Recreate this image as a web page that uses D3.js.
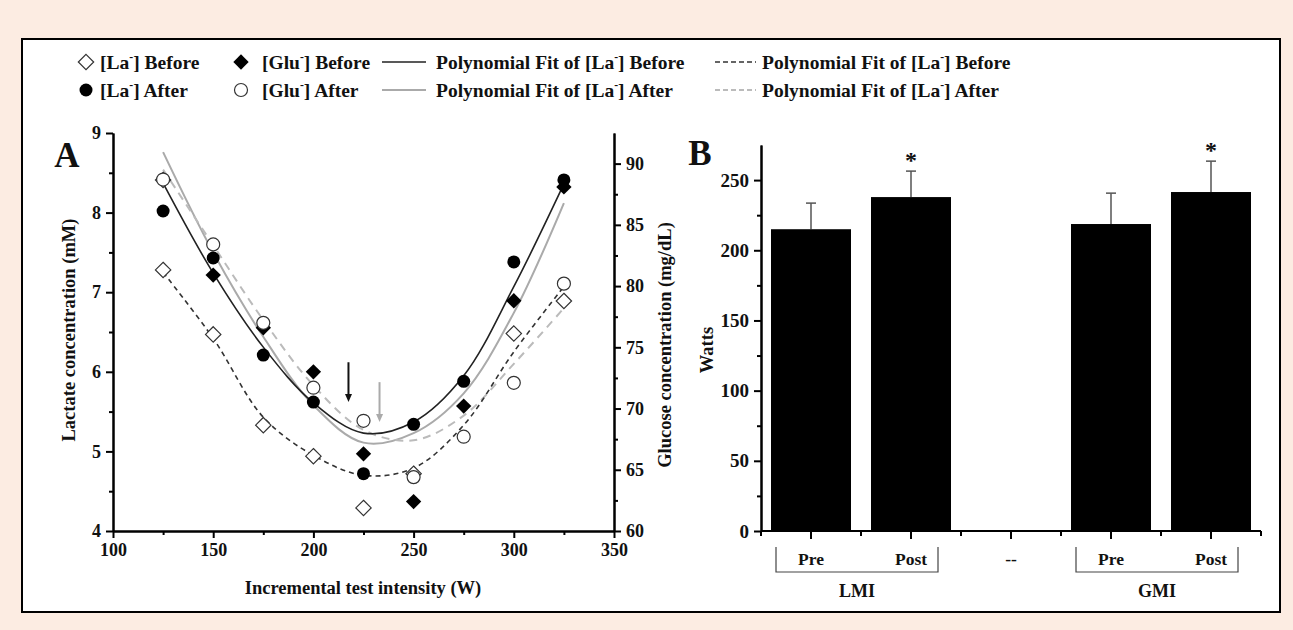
<!DOCTYPE html>
<html>
<head>
<meta charset="utf-8">
<script src="https://cdn.jsdelivr.net/npm/d3@7"></script>
<style>
  body { margin:0; background:#fcece2; }
  svg text { font-family: "Liberation Serif", "Times New Roman", serif; font-weight: bold; fill:#111; }
</style>
</head>
<body>
<svg id="fig" width="1293" height="630"></svg>
<script>
// datos panel A (intensidad en W)
const intensidad = [125,150,175,200,225,250,275,300,325];
const laBefore = [[125,7.28],[125,8.41],[150,6.47],[175,5.33],[200,4.94],[225,4.29],[250,4.72],[300,6.48],[325,6.89]];
const laAfter = [8.02,7.43,6.21,5.62,4.72,5.34,5.88,7.38,8.41];
const gluBefore = [null,80.9,76.6,73.0,66.3,62.4,70.2,78.8,88.1];
const gluAfter = [88.7,83.4,77.0,71.7,69.0,64.4,67.7,72.1,80.2];
// curvas de ajuste (mM)
const fitBefore = [8.37,7.24,6.31,5.61,5.23,5.37,5.95,7.07,8.36];
const fitAfter = [8.76,7.50,6.44,5.58,5.11,5.23,5.73,6.74,8.12];
const fitBeforeDash = [7.25,6.42,5.43,4.95,4.70,4.79,5.33,6.25,7.07];
const fitAfterDash = [8.54,7.59,6.65,5.83,5.27,5.14,5.45,6.10,6.80];
// flechas: [W, desde mM, hasta mM]
const flechaNegra = [217.5, 6.12, 5.62];
const flechaGris = [233, 5.87, 5.37];

// datos panel B
const grupos = ["LMI Pre","LMI Post","--","GMI Pre","GMI Post"];
const etiquetasB = ["Pre","Post","--","Pre","Post"];
const watts = [215, 237.9, null, 218.7, 241.5];
const errores = [18.6, 18.5, null, 22, 22];
const significativo = [false, true, false, false, true];
const llaves = [["LMI","LMI Pre","LMI Post"],["GMI","GMI Pre","GMI Post"]];

const svg = d3.select("#fig");

// marco blanco
svg.append("rect").attr("x",22).attr("y",39).attr("width",1258).attr("height",573)
  .attr("fill","#fff").attr("stroke","#000").attr("stroke-width",2);

// texto con superindice "-"
const textoSup = (g, x, y, pre, post, size) => {
  const t = g.append("text").attr("x",x).attr("y",y).attr("font-size",size);
  t.append("tspan").text(pre);
  t.append("tspan").attr("font-size",size*0.6).attr("dy",-size*0.42).text("-");
  t.append("tspan").attr("dy",size*0.42).text(post);
  return t;
};

// simbolos
const diamante = d3.symbol().type(d3.symbolDiamond2).size(150);
const dibujaSimbolo = (g, tipo, x, y) => {
  if (tipo === "odia") g.append("path").attr("d",diamante()).attr("transform",`translate(${x},${y})`).attr("fill","#fff").attr("stroke","#333").attr("stroke-width",1.2);
  if (tipo === "fdia") g.append("path").attr("d",diamante()).attr("transform",`translate(${x},${y})`).attr("fill","#000");
  if (tipo === "fcir") g.append("circle").attr("cx",x).attr("cy",y).attr("r",6.5).attr("fill","#000");
  if (tipo === "ocir") g.append("circle").attr("cx",x).attr("cy",y).attr("r",6.5).attr("fill","#fff").attr("stroke","#333").attr("stroke-width",1.2);
};

// LEYENDA
const leyenda = svg.append("g");
const fila1 = 69, fila2 = 97, tamLey = 19.5;
dibujaSimbolo(leyenda,"odia",86,fila1-7);
textoSup(leyenda,100,fila1,"[La","] Before",tamLey);
dibujaSimbolo(leyenda,"fcir",86,fila2-7);
textoSup(leyenda,100,fila2,"[La","] After",tamLey);
dibujaSimbolo(leyenda,"fdia",241,fila1-7);
textoSup(leyenda,262,fila1,"[Glu","] Before",tamLey);
dibujaSimbolo(leyenda,"ocir",241,fila2-7);
textoSup(leyenda,262,fila2,"[Glu","] After",tamLey);
const estilosFit = [
  {color:"#222", ancho:1.6, dash:null},
  {color:"#aaa", ancho:2, dash:null},
  {color:"#333", ancho:1.6, dash:"5,4"},
  {color:"#bbb", ancho:2, dash:"8,6"}
];
[[382,426,fila1,0,436,"] Before"],[382,426,fila2,1,436,"] After"],[715,756,fila1,2,762,"] Before"],[715,756,fila2,3,762,"] After"]]
  .forEach(([x1,x2,y,k,xt,post]) => {
    leyenda.append("line").attr("x1",x1).attr("x2",x2).attr("y1",y-7).attr("y2",y-7)
      .attr("stroke",estilosFit[k].color).attr("stroke-width",estilosFit[k].ancho).attr("stroke-dasharray",k > 1 ? "5,3" : null);
    textoSup(leyenda,xt,y,"Polynomial Fit of [La",post,tamLey);
  });

// PANEL A
const xA = d3.scaleLinear().domain([100,350]).range([113,614]);
const yLa = d3.scaleLinear().domain([4,9]).range([531,133]);
const yGlu = d3.scaleLinear().domain([60,92.5]).range([531,133]);
const gA = svg.append("g");

const estiloEje = (g, tam) => {
  g.selectAll("path.domain").attr("stroke","#000").attr("stroke-width",2);
  g.selectAll(".tick line").attr("stroke","#000").attr("stroke-width",2);
  g.selectAll("text").attr("font-size",tam).attr("fill","#111");
  g.attr("font-family",null);
};
const entero = d3.format("d");

// ejes con ticks menores
gA.append("g").attr("transform","translate(0,531)")
  .call(d3.axisBottom(xA).tickValues([125,175,225,275,325]).tickFormat("").tickSize(4).tickSizeOuter(0)).call(estiloEje,18);
gA.append("g").attr("transform","translate(0,531)")
  .call(d3.axisBottom(xA).tickValues([100,150,200,250,300,350]).tickFormat(entero).tickSize(7).tickSizeOuter(0).tickPadding(5)).call(estiloEje,18);
gA.append("g").attr("transform","translate(113,0)")
  .call(d3.axisLeft(yLa).tickValues([4.5,5.5,6.5,7.5,8.5]).tickFormat("").tickSize(4).tickSizeOuter(0)).call(estiloEje,18);
gA.append("g").attr("transform","translate(113,0)")
  .call(d3.axisLeft(yLa).tickValues([4,5,6,7,8,9]).tickFormat(entero).tickSize(7).tickSizeOuter(0).tickPadding(5)).call(estiloEje,18);
gA.append("g").attr("transform","translate(614,0)")
  .call(d3.axisRight(yGlu).tickValues([62.5,67.5,72.5,77.5,82.5,87.5]).tickFormat("").tickSize(4).tickSizeOuter(0)).call(estiloEje,18);
gA.append("g").attr("transform","translate(614,0)")
  .call(d3.axisRight(yGlu).tickValues([60,65,70,75,80,85,90]).tickFormat(entero).tickSize(7).tickSizeOuter(0).tickPadding(5)).call(estiloEje,18);

// titulos de ejes
gA.append("text").attr("x",363).attr("y",594).attr("text-anchor","middle").attr("font-size",18.5).text("Incremental test intensity (W)");
gA.append("text").attr("transform","translate(75,330) rotate(-90)").attr("text-anchor","middle").attr("font-size",18.5).text("Lactate concentration (mM)");
gA.append("text").attr("transform","translate(671,345) rotate(-90)").attr("text-anchor","middle").attr("font-size",18.5).text("Glucose concentration (mg/dL)");
gA.append("text").attr("x",67).attr("y",167).attr("text-anchor","middle").attr("font-size",35).text("A");

// curvas de ajuste
const linea = d3.line().x((d,i) => xA(intensidad[i])).y(d => yLa(d)).curve(d3.curveCatmullRom.alpha(0.5));
[fitAfter, fitAfterDash, fitBeforeDash, fitBefore].forEach((serie) => {
  const k = [fitBefore, fitAfter, fitBeforeDash, fitAfterDash].indexOf(serie);
  gA.append("path").attr("d",linea(serie)).attr("fill","none")
    .attr("stroke",estilosFit[k].color).attr("stroke-width",estilosFit[k].ancho).attr("stroke-dasharray",estilosFit[k].dash);
});

// flechas
const flecha = (f, color) => {
  const x = xA(f[0]), y1 = yLa(f[1]), y2 = yLa(f[2]);
  gA.append("line").attr("x1",x).attr("x2",x).attr("y1",y1).attr("y2",y2-6).attr("stroke",color).attr("stroke-width",2);
  gA.append("path").attr("d",`M${x-3.5},${y2-8} L${x+3.5},${y2-8} L${x},${y2} Z`).attr("fill",color);
};
flecha(flechaNegra,"#111");
flecha(flechaGris,"#aaa");

// puntos
const gP = gA.append("g");
laBefore.forEach(([w,v]) => dibujaSimbolo(gP,"odia",xA(w),yLa(v)));
gluBefore.forEach((v,i) => { if (v !== null) dibujaSimbolo(gP,"fdia",xA(intensidad[i]),yGlu(v)); });
laAfter.forEach((v,i) => dibujaSimbolo(gP,"fcir",xA(intensidad[i]),yLa(v)));
gluAfter.forEach((v,i) => dibujaSimbolo(gP,"ocir",xA(intensidad[i]),yGlu(v)));

// PANEL B
const xB = d3.scaleBand().domain(grupos).range([761,1261]).paddingInner(0.2).paddingOuter(0.1);
const yB = d3.scaleLinear().domain([0,275]).range([531,145]);
const gB = svg.append("g");

// barras
grupos.forEach((c,i) => {
  if (watts[i] === null) return;
  const xc = xB(c) + xB.bandwidth()/2;
  const tope = yB(watts[i]+errores[i]);
  gB.append("line").attr("x1",xc).attr("x2",xc).attr("y1",yB(watts[i])).attr("y2",tope).attr("stroke","#555").attr("stroke-width",1.5);
  gB.append("line").attr("x1",xc-5).attr("x2",xc+5).attr("y1",tope).attr("y2",tope).attr("stroke","#555").attr("stroke-width",1.5);
  gB.append("rect").attr("x",xB(c)).attr("y",yB(watts[i])).attr("width",xB.bandwidth()).attr("height",yB(0)-yB(watts[i])).attr("fill","#000");
  if (significativo[i]) gB.append("text").attr("x",xc).attr("y",tope-3).attr("text-anchor","middle").attr("font-size",24).text("*");
});

// eje y
gB.append("g").attr("transform","translate(761,0)")
  .call(d3.axisLeft(yB).tickValues([25,75,125,175,225]).tickFormat("").tickSize(4).tickSizeOuter(0)).call(estiloEje,19);
gB.append("g").attr("transform","translate(761,0)")
  .call(d3.axisLeft(yB).tickValues([0,50,100,150,200,250]).tickFormat(entero).tickSize(7).tickSizeOuter(0).tickPadding(5)).call(estiloEje,19);

// eje x: ticks en centros y limites de banda
const limites = d3.range(grupos.length+1).map(i => 761 + i*xB.step());
const ejeXB = gB.append("g").attr("transform","translate(0,531)")
  .call(d3.axisBottom(xB).tickSize(8).tickSizeOuter(0).tickFormat((d,i) => etiquetasB[i]).tickPadding(14)).call(estiloEje,17.5);
ejeXB.selectAll(".lim").data(limites).enter().append("line").attr("class","lim")
  .attr("x1",d=>d).attr("x2",d=>d).attr("y1",0).attr("y2",5).attr("stroke","#000").attr("stroke-width",2);
ejeXB.select("path.domain").attr("d","M761,0H1261");

// llaves de grupo
llaves.forEach(([nombre,desde,hasta]) => {
  const xa = xB(desde) + xB.bandwidth()/2 - 35;
  const xb = xB(hasta) + xB.bandwidth()/2 + 27;
  gB.append("path").attr("d",`M${xa},547 V572 H${xb} V547`).attr("fill","none").attr("stroke","#444").attr("stroke-width",1.2);
  gB.append("text").attr("x",(xa+xb)/2).attr("y",597).attr("text-anchor","middle").attr("font-size",18).text(nombre);
});

gB.append("text").attr("transform","translate(713,350) rotate(-90)").attr("text-anchor","middle").attr("font-size",18.5).text("Watts");
gB.append("text").attr("x",700).attr("y",165).attr("text-anchor","middle").attr("font-size",35).text("B");
</script>
</body>
</html>
